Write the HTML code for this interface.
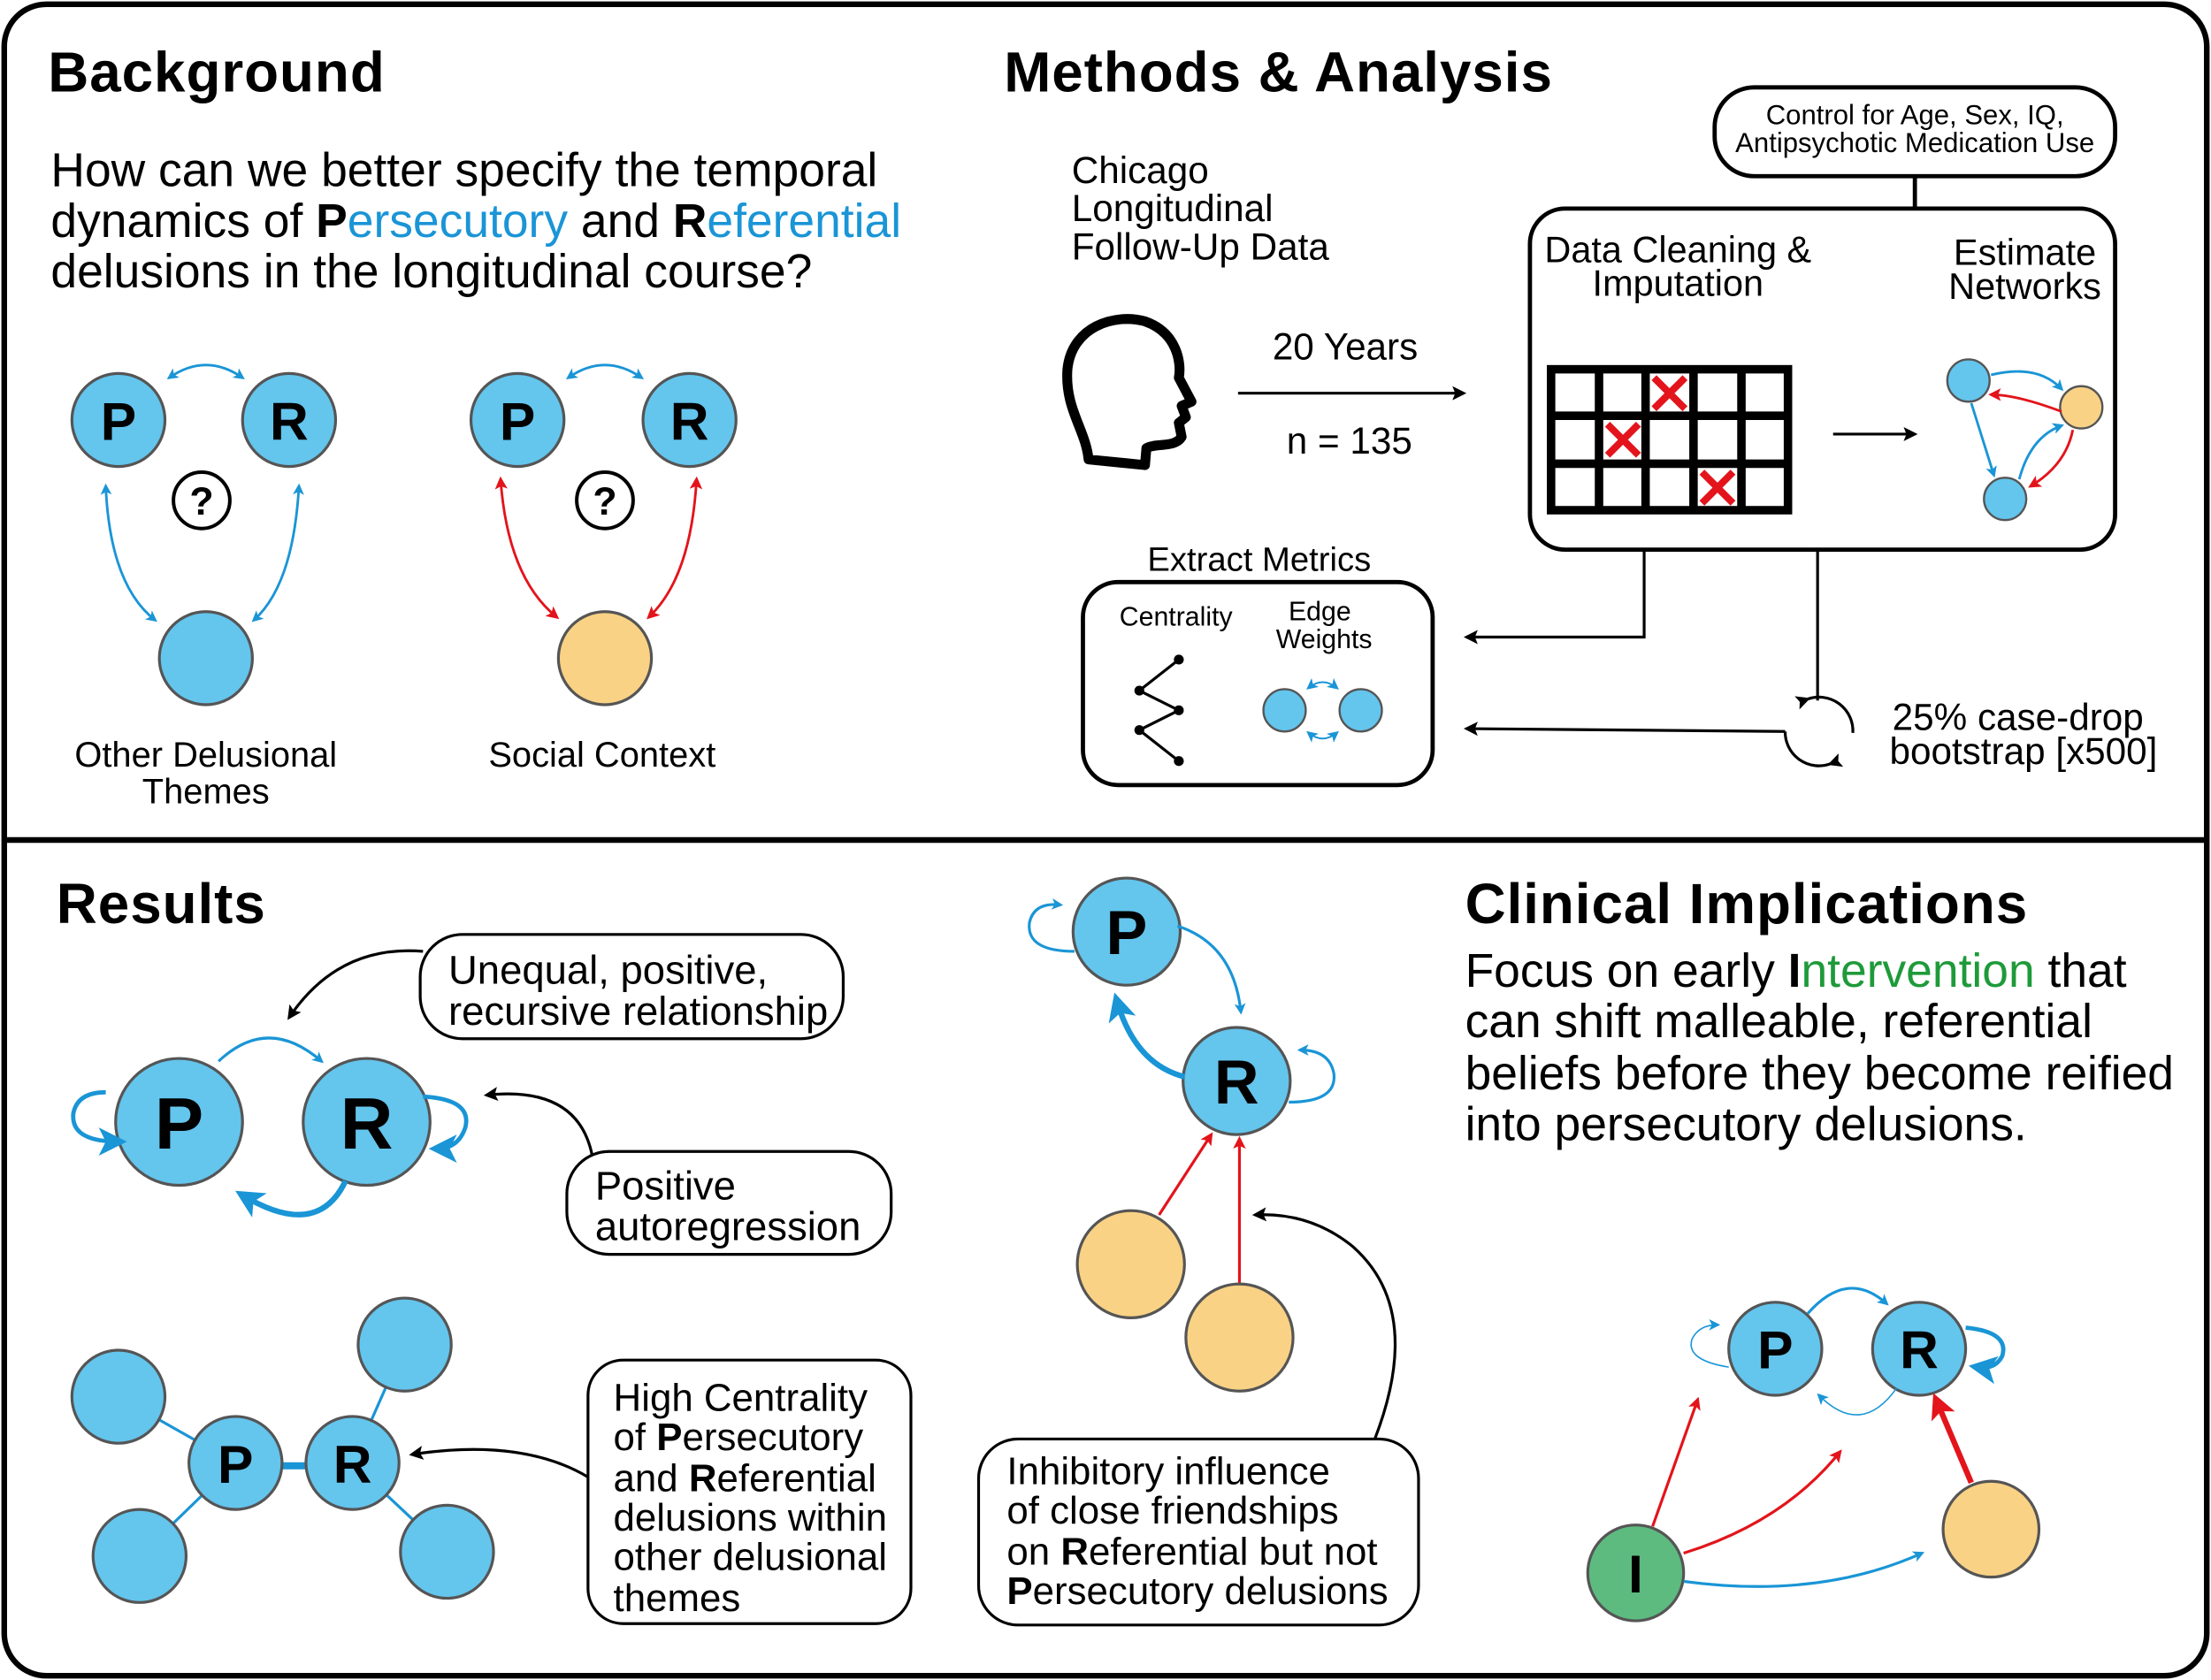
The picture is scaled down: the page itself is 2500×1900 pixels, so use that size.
<!DOCTYPE html>
<html><head><meta charset="utf-8"><style>html,body{margin:0;padding:0;background:#fff}svg{display:block}</style></head><body>
<svg width="2500" height="1900" viewBox="0 0 1568 1192" preserveAspectRatio="none" xmlns="http://www.w3.org/2000/svg" font-family="Liberation Sans, Arial, sans-serif">
<defs>
<marker id="ab" markerWidth="8" markerHeight="8" refX="6" refY="4" orient="auto-start-reverse" markerUnits="userSpaceOnUse"><path d="M0,0 L8,4 L0,8 L2,4 z" fill="#1a95d6"/></marker>
<marker id="abL" markerWidth="20" markerHeight="20" refX="14" refY="10" orient="auto-start-reverse" markerUnits="userSpaceOnUse"><path d="M0,0 L20,10 L0,20 L5,10 z" fill="#1a95d6"/></marker>
<marker id="ar" markerWidth="9" markerHeight="9" refX="7" refY="4.5" orient="auto-start-reverse" markerUnits="userSpaceOnUse"><path d="M0,0 L9,4.5 L0,9 L2,4.5 z" fill="#e3141b"/></marker>
<marker id="arL" markerWidth="18" markerHeight="18" refX="13" refY="9" orient="auto-start-reverse" markerUnits="userSpaceOnUse"><path d="M0,0 L18,9 L0,18 L4,9 z" fill="#e3141b"/></marker>
<marker id="ak" markerWidth="10" markerHeight="10" refX="8" refY="5" orient="auto" markerUnits="userSpaceOnUse"><path d="M0,0 L10,5 L0,10 L2,5 z" fill="#000"/></marker>
</defs>
<rect x="3" y="3" width="1562" height="1186" rx="30" fill="#fff" stroke="#000" stroke-width="4"/>
<line x1="3" y1="596" x2="1565" y2="596" stroke="#000" stroke-width="4"/>

<!-- Background -->
<text x="34" y="65" font-size="40" font-weight="bold" letter-spacing="0.6">Background</text>
<g font-size="33.5">
<text x="36" y="132">How can we better specify the temporal</text>
<text x="36" y="168">dynamics of <tspan font-weight="bold">P</tspan><tspan fill="#1a95d6">ersecutory</tspan> and <tspan font-weight="bold">R</tspan><tspan fill="#1a95d6">eferential</tspan></text>
<text x="36" y="204">delusions in the longitudinal course?</text>
</g>
<g stroke="#555" stroke-width="2">
<circle cx="84" cy="298" r="33" fill="#64c5ed"/><circle cx="205" cy="298" r="33" fill="#64c5ed"/>
<circle cx="146" cy="467" r="33" fill="#64c5ed"/>
<circle cx="367" cy="298" r="33" fill="#64c5ed"/><circle cx="489" cy="298" r="33" fill="#64c5ed"/>
<circle cx="429" cy="467" r="33" fill="#f9d285"/>
</g>
<circle cx="143" cy="355" r="20" fill="#fff" stroke="#000" stroke-width="2.5"/>
<circle cx="429" cy="355" r="20" fill="#fff" stroke="#000" stroke-width="2.5"/>
<g font-size="38" font-weight="bold" text-anchor="middle">
<text x="84" y="312">P</text><text x="205" y="312">R</text><text x="367" y="312">P</text><text x="489" y="312">R</text>
</g>
<g font-size="28" font-weight="bold" text-anchor="middle"><text x="143" y="365">?</text><text x="429" y="365">?</text></g>
<g fill="none" stroke="#1a95d6" stroke-width="1.8" marker-start="url(#ab)" marker-end="url(#ab)">
<path d="M120,268 Q146,250 172,268"/><path d="M75,345 Q78,415 110,440"/><path d="M212,345 Q208,415 180,440"/>
<path d="M403,268 Q429,250 455,268"/>
</g>
<g fill="none" stroke="#e3141b" stroke-width="1.8" marker-start="url(#ar)" marker-end="url(#ar)">
<path d="M355,340 Q360,410 395,438"/><path d="M494,340 Q490,410 460,438"/>
</g>
<g font-size="25" text-anchor="middle"><text x="146" y="544">Other Delusional</text><text x="146" y="570">Themes</text><text x="427" y="544">Social Context</text></g>

<!-- Methods -->
<text x="712" y="65" font-size="40" font-weight="bold" letter-spacing="0.6">Methods &amp; Analysis</text>
<rect x="1216" y="62" width="284" height="63" rx="28" fill="#fff" stroke="#000" stroke-width="3"/>
<g font-size="19.5" text-anchor="middle"><text x="1358" y="88">Control for Age, Sex, IQ,</text><text x="1358" y="108">Antipsychotic Medication Use</text></g>
<line x1="1358" y1="125" x2="1358" y2="148" stroke="#000" stroke-width="3"/>
<rect x="1085" y="148" width="415" height="242" rx="25" fill="#fff" stroke="#000" stroke-width="3"/>
<g font-size="26" text-anchor="middle"><text x="1190" y="186">Data Cleaning &amp;</text><text x="1190" y="210">Imputation</text><text x="1436" y="188">Estimate</text><text x="1436" y="212">Networks</text></g>
<g stroke="#000" stroke-width="6" fill="none">
<rect x="1100" y="262" width="168" height="100"/>
<line x1="1134" y1="262" x2="1134" y2="362"/><line x1="1167" y1="262" x2="1167" y2="362"/><line x1="1201" y1="262" x2="1201" y2="362"/><line x1="1235" y1="262" x2="1235" y2="362"/>
<line x1="1100" y1="295" x2="1268" y2="295"/><line x1="1100" y1="329" x2="1268" y2="329"/>
</g>
<g stroke="#e3141b" stroke-width="5">
<path d="M1173,268 L1195,290 M1195,268 L1173,290"/>
<path d="M1140,301 L1162,323 M1162,301 L1140,323"/>
<path d="M1207,335 L1229,357 M1229,335 L1207,357"/>
</g>
<line x1="1300" y1="308" x2="1358" y2="308" stroke="#000" stroke-width="2" marker-end="url(#ak)"/>
<g stroke="#555" stroke-width="1.5"><circle cx="1396" cy="270" r="15" fill="#64c5ed"/><circle cx="1476" cy="289" r="15" fill="#f9d285"/><circle cx="1422" cy="354" r="15" fill="#64c5ed"/></g>
<g fill="none" stroke-width="1.8">
<path d="M1412,266 Q1445,258 1462,276" stroke="#1a95d6" marker-end="url(#ab)"/>
<path d="M1462,292 Q1430,280 1412,280" stroke="#e3141b" marker-end="url(#ar)"/>
<path d="M1398,286 L1414,337" stroke="#1a95d6" marker-end="url(#ab)"/>
<path d="M1432,340 Q1440,310 1462,302" stroke="#1a95d6" marker-end="url(#ab)"/>
<path d="M1470,305 Q1465,330 1440,345" stroke="#e3141b" marker-end="url(#ar)"/>
</g>
<g font-size="26.5"><text x="760" y="130">Chicago</text><text x="760" y="157">Longitudinal</text><text x="760" y="184">Follow-Up Data</text></g>
<path d="M772,326 C770,305 755,290 757,262 C760,232 790,222 812,228 C835,236 838,258 836,268 L845,285 L838,288 L841,296 L836,300 L838,310 C833,318 820,314 813,318 L812,330 Z" fill="none" stroke="#000" stroke-width="7" stroke-linejoin="round"/>
<text x="954" y="255" font-size="26.5" text-anchor="middle">20 Years</text>
<line x1="878" y1="279" x2="1038" y2="279" stroke="#000" stroke-width="2" marker-end="url(#ak)"/>
<text x="957" y="322" font-size="26.5" text-anchor="middle">n = 135</text>
<text x="893" y="405" font-size="24" text-anchor="middle">Extract Metrics</text>
<rect x="768" y="413" width="248" height="144" rx="25" fill="#fff" stroke="#000" stroke-width="3"/>
<g font-size="19" text-anchor="middle"><text x="834" y="444">Centrality</text><text x="936" y="440">Edge</text><text x="939" y="460">Weights</text></g>
<polyline points="836,468 808,490 836,504 808,518 836,540" fill="none" stroke="#000" stroke-width="2"/>
<g fill="#000"><circle cx="836" cy="468" r="3.5"/><circle cx="808" cy="490" r="3.5"/><circle cx="836" cy="504" r="3.5"/><circle cx="808" cy="518" r="3.5"/><circle cx="836" cy="540" r="3.5"/></g>
<g stroke="#555" stroke-width="1.5"><circle cx="911" cy="504" r="15" fill="#64c5ed"/><circle cx="965" cy="504" r="15" fill="#64c5ed"/></g>
<g fill="none" stroke="#1a95d6" stroke-width="1.2" marker-start="url(#ab)" marker-end="url(#ab)"><path d="M928,488 Q938,480 948,488"/><path d="M928,520 Q938,528 948,520"/></g>
<polyline points="1166,390 1166,452 1040,452" fill="none" stroke="#000" stroke-width="2" marker-end="url(#ak)"/>
<line x1="1289" y1="390" x2="1289" y2="497" stroke="#000" stroke-width="2"/>
<path d="M1282,496 A24,24 0 0,1 1314,520" fill="none" stroke="#000" stroke-width="2" marker-start="url(#ak)"/>
<path d="M1298,542 A24,24 0 0,1 1266,519" fill="none" stroke="#000" stroke-width="2" marker-start="url(#ak)"/>
<line x1="1266" y1="519" x2="1040" y2="517" stroke="#000" stroke-width="2" marker-end="url(#ak)"/>
<g font-size="26.5"><text x="1342" y="518">25% case-drop</text><text x="1340" y="542">bootstrap [x500]</text></g>

<!-- Results -->
<text x="40" y="655" font-size="40" font-weight="bold" letter-spacing="0.6">Results</text>
<rect x="298" y="663" width="300" height="74" rx="30" fill="#fff" stroke="#000" stroke-width="2"/>
<g font-size="28.5"><text x="318" y="698">Unequal, positive,</text><text x="318" y="727">recursive relationship</text></g>
<path d="M300,675 Q240,670 205,722" fill="none" stroke="#000" stroke-width="2" marker-end="url(#ak)"/>
<g stroke="#555" stroke-width="2"><circle cx="127" cy="796" r="45" fill="#64c5ed"/><circle cx="260" cy="796" r="45" fill="#64c5ed"/></g>
<g font-size="52" font-weight="bold" text-anchor="middle"><text x="127" y="815">P</text><text x="260" y="815">R</text></g>
<path d="M155,753 Q190,720 228,753" fill="none" stroke="#1a95d6" stroke-width="2" marker-end="url(#ab)"/>
<path d="M245,838 Q225,880 172,848" fill="none" stroke="#1a95d6" stroke-width="4" marker-end="url(#abL)"/>
<path d="M84,810 Q50,810 52,790 Q55,775 75,775" fill="none" stroke="#1a95d6" stroke-width="3" marker-start="url(#abL)"/>
<path d="M300,778 Q335,780 330,800 Q325,815 310,815" fill="none" stroke="#1a95d6" stroke-width="3" marker-end="url(#abL)"/>
<rect x="402" y="817" width="230" height="73" rx="30" fill="#fff" stroke="#000" stroke-width="2"/>
<g font-size="28.5"><text x="422" y="851">Positive</text><text x="422" y="880">autoregression</text></g>
<path d="M420,820 Q410,770 345,777" fill="none" stroke="#000" stroke-width="2" marker-end="url(#ak)"/>
<g stroke="#1a95d6" stroke-width="2"><line x1="84" y1="991" x2="167" y2="1038"/><line x1="287" y1="954" x2="250" y2="1038"/><line x1="99" y1="1104" x2="167" y2="1038"/><line x1="317" y1="1101" x2="250" y2="1038"/><line x1="167" y1="1040" x2="250" y2="1040" stroke-width="5"/></g>
<g stroke="#555" stroke-width="2" fill="#64c5ed"><circle cx="84" cy="991" r="33"/><circle cx="287" cy="954" r="33"/><circle cx="99" cy="1104" r="33"/><circle cx="317" cy="1101" r="33"/><circle cx="167" cy="1038" r="33"/><circle cx="250" cy="1038" r="33"/></g>
<g font-size="38" font-weight="bold" text-anchor="middle"><text x="167" y="1052">P</text><text x="250" y="1052">R</text></g>
<rect x="417" y="965" width="229" height="187" rx="25" fill="#fff" stroke="#000" stroke-width="2"/>
<g font-size="27.5"><text x="435" y="1001">High Centrality</text><text x="435" y="1029">of <tspan font-weight="bold">P</tspan>ersecutory</text><text x="435" y="1058">and <tspan font-weight="bold">R</tspan>eferential</text><text x="435" y="1086">delusions within</text><text x="435" y="1114">other delusional</text><text x="435" y="1143">themes</text></g>
<path d="M417,1048 Q370,1020 292,1032" fill="none" stroke="#000" stroke-width="2" marker-end="url(#ak)"/>

<!-- Middle network -->
<g stroke="#555" stroke-width="2"><circle cx="799" cy="661" r="38" fill="#64c5ed"/><circle cx="877" cy="767" r="38" fill="#64c5ed"/><circle cx="802" cy="897" r="38" fill="#f9d285"/><circle cx="879" cy="949" r="38" fill="#f9d285"/></g>
<g font-size="44" font-weight="bold" text-anchor="middle"><text x="799" y="677">P</text><text x="877" y="783">R</text></g>
<path d="M835,657 Q875,670 880,718" fill="none" stroke="#1a95d6" stroke-width="2" marker-end="url(#ab)"/>
<path d="M840,764 Q805,755 792,710" fill="none" stroke="#1a95d6" stroke-width="4" marker-end="url(#abL)"/>
<path d="M762,675 Q728,675 730,655 Q733,640 752,642" fill="none" stroke="#1a95d6" stroke-width="2" marker-end="url(#ab)"/>
<path d="M914,782 Q948,782 946,762 Q943,745 922,745" fill="none" stroke="#1a95d6" stroke-width="2" marker-end="url(#ab)"/>
<line x1="822" y1="862" x2="859" y2="805" stroke="#e3141b" stroke-width="2" marker-end="url(#ar)"/>
<line x1="879" y1="910" x2="879" y2="808" stroke="#e3141b" stroke-width="2" marker-end="url(#ar)"/>
<rect x="694" y="1021" width="312" height="132" rx="28" fill="#fff" stroke="#000" stroke-width="2"/>
<g font-size="27.5"><text x="714" y="1053">Inhibitory influence</text><text x="714" y="1081">of close friendships</text><text x="714" y="1110">on <tspan font-weight="bold">R</tspan>eferential but not</text><text x="714" y="1138"><tspan font-weight="bold">P</tspan>ersecutory delusions</text></g>
<path d="M975,1021 Q1010,930 960,885 Q930,860 890,862" fill="none" stroke="#000" stroke-width="2" marker-end="url(#ak)"/>

<!-- Clinical -->
<text x="1039" y="655" font-size="40" font-weight="bold" letter-spacing="0.6">Clinical Implications</text>
<g font-size="33.5"><text x="1039" y="700">Focus on early <tspan font-weight="bold">I</tspan><tspan fill="#1e9a3a">ntervention</tspan> that</text><text x="1039" y="736">can shift malleable, referential</text><text x="1039" y="773">beliefs before they become reified</text><text x="1039" y="809">into persecutory delusions.</text></g>
<g stroke="#555" stroke-width="2"><circle cx="1259" cy="957" r="33" fill="#64c5ed"/><circle cx="1361" cy="957" r="33" fill="#64c5ed"/><circle cx="1412" cy="1085" r="34" fill="#f9d285"/><circle cx="1160" cy="1116" r="34" fill="#5dbb80"/></g>
<g font-size="38" font-weight="bold" text-anchor="middle"><text x="1259" y="971">P</text><text x="1361" y="971">R</text><text x="1160" y="1130">I</text></g>
<path d="M1282,932 Q1310,900 1338,925" fill="none" stroke="#1a95d6" stroke-width="2" marker-end="url(#ab)"/>
<path d="M1345,985 Q1320,1020 1290,990" fill="none" stroke="#1a95d6" stroke-width="1" marker-end="url(#ab)"/>
<path d="M1226,970 Q1195,965 1200,950 Q1205,940 1218,940" fill="none" stroke="#1a95d6" stroke-width="1" marker-end="url(#ab)"/>
<path d="M1394,942 Q1425,945 1420,962 Q1415,972 1402,970" fill="none" stroke="#1a95d6" stroke-width="3" marker-end="url(#abL)"/>
<line x1="1172" y1="1083" x2="1204" y2="993" stroke="#e3141b" stroke-width="2" marker-end="url(#ar)"/>
<path d="M1194,1102 Q1265,1080 1305,1030" fill="none" stroke="#e3141b" stroke-width="2" marker-end="url(#ar)"/>
<path d="M1194,1122 Q1290,1135 1363,1102" fill="none" stroke="#1a95d6" stroke-width="2" marker-end="url(#ab)"/>
<line x1="1398" y1="1052" x2="1373" y2="993" stroke="#e3141b" stroke-width="4" marker-end="url(#arL)"/>
</svg>
</body></html>
